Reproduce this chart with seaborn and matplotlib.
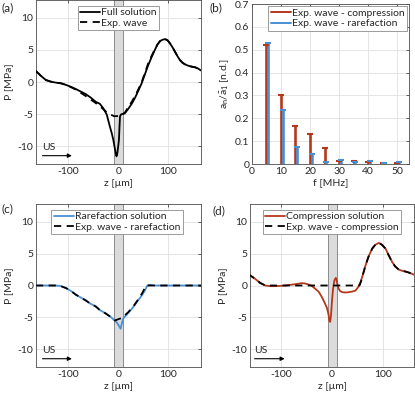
import matplotlib
matplotlib.use("Agg")
import matplotlib.pyplot as plt
from matplotlib.lines import Line2D
import pandas as pd
import seaborn as sns

# ---- data ----
# (a) full solution
z_full = [-165, -155, -145, -135, -125, -115, -105, -95, -85, -75, -65, -55, -45, -37, -30, -23,
          -17, -13, -10, -7, -5, -3.5, -2, -0.5, 1.4, 2.5, 3.5, 5, 8, 13, 20, 27, 33.5, 40, 47,
          53, 60, 67, 74, 79, 84, 89, 94, 99, 104, 109, 114, 119, 124, 129, 134, 140, 147, 154,
          160, 166]
p_full = [1.7, 0.95, 0.3, 0.05, -0.1, -0.2, -0.45, -0.75, -1.1, -1.5, -1.9, -2.45, -3.1, -3.4,
          -4.1, -5.1, -6.9, -8.0, -9.0, -10.3, -11.2, -11.6, -11.2, -10.3, -9.0, -7.0, -5.4, -5.1,
          -5.0, -4.9, -4.2, -3.4, -2.5, -1.4, -0.2, 1.1, 2.6, 3.9, 5.1, 5.9, 6.4, 6.6, 6.7, 6.5,
          6.0, 5.4, 4.7, 4.0, 3.4, 3.0, 2.75, 2.55, 2.4, 2.3, 2.1, 1.8]

# (a) experimental wave
z_exp = [-165, -155, -145, -135, -125, -115, -105, -95, -85, -75, -65, -55, -45, -35, -25, -15,
         -8, 0, 7, 14, 20, 27, 33.5, 40, 47, 53, 60, 67, 74, 79, 84, 89, 94, 99, 104, 109, 114,
         119, 124, 129, 134, 140, 147, 154, 160, 166]
p_exp = [1.7, 0.95, 0.3, 0.05, -0.1, -0.2, -0.45, -0.8, -1.2, -1.7, -2.2, -2.75, -3.3, -3.9,
         -4.6, -5.1, -5.35, -5.3, -5.2, -4.7, -3.9, -3.1, -2.2, -1.2, 0.0, 1.3, 2.9, 4.1, 5.2,
         5.9, 6.4, 6.6, 6.7, 6.5, 6.0, 5.4, 4.7, 4.0, 3.4, 3.0, 2.75, 2.55, 2.4, 2.3, 2.1, 1.8]

# (b) harmonic amplitudes
freq = [5, 10, 15, 20, 25, 30, 35, 40, 45, 50]
amp_comp = [0.52, 0.30, 0.165, 0.132, 0.068, 0.015, 0.012, 0.008, 0.006, 0.004]
amp_rare = [0.53, 0.237, 0.073, 0.045, 0.008, 0.018, 0.009, 0.012, 0.005, 0.008]

# (c) rarefaction
z_rare = [-165, -140, -125, -115, -105, -95, -85, -75, -65, -57, -45, -37, -25, -15, -7, -2, 1,
          4.8, 7, 10, 20, 30, 40, 48, 54, 58, 62, 67, 75, 166]
p_rare = [0, 0, 0, -0.1, -0.4, -0.85, -1.45, -1.9, -2.35, -2.8, -3.3, -3.85, -4.4, -4.95, -5.5,
          -5.9, -6.3, -6.8, -6.0, -5.2, -4.3, -3.4, -2.3, -1.5, -0.7, -0.05, 0.1, 0.05, 0, 0]
z_rare_exp = [-165, -125, -115, -105, -95, -85, -75, -65, -57, -45, -37, -25, -15, -7, 7, 20,
              30, 40, 48, 56, 166]
p_rare_exp = [0, 0, -0.1, -0.4, -0.85, -1.45, -1.9, -2.35, -2.8, -3.3, -3.85, -4.4, -4.95, -5.5,
              -5.1, -4.2, -3.3, -2.2, -1.2, 0, 0]

# (d) compression
z_comp = [-165, -161, -151, -141, -131, -121, -111, -100, -92, -82, -72, -65, -59, -52, -46, -40,
          -33, -26, -20, -15, -10, -7, -5, -3.5, -2, 0, 2, 4.6, 7.5, 9.5, 11, 13, 16.3, 20, 26,
          33, 40, 46, 51, 56, 61, 66, 72, 79, 85, 92, 98, 105, 111, 118, 124, 131, 138, 144,
          152, 158, 165]
p_comp = [1.75, 1.6, 1.05, 0.4, 0.0, -0.1, -0.1, -0.05, 0.0, 0.1, 0.2, 0.3, 0.37, 0.3, 0.15,
          -0.05, -0.5, -1.0, -1.8, -2.6, -3.5, -4.5, -5.6, -5.7, -4.7, -2.4, -0.6, 0.8, 1.2, 0.7,
          0.0, -0.5, -0.9, -1.05, -1.1, -1.05, -0.95, -0.8, -0.3, 0.5, 1.8, 3.2, 4.6, 5.8, 6.4,
          6.7, 6.4, 5.8, 4.8, 3.7, 3.0, 2.5, 2.3, 2.2, 2.0, 1.8, 1.55]
z_comp_exp = [-165, -161, -151, -141, -131, 54, 58, 61, 66, 72, 79, 85, 92, 98, 105, 111, 118,
              124, 131, 138, 144, 152, 158, 165]
p_comp_exp = [1.75, 1.6, 1.05, 0.4, 0.0, 0.0, 0.9, 1.8, 3.2, 4.6, 5.8, 6.4, 6.7, 6.4, 5.8, 4.8,
              3.7, 3.0, 2.5, 2.3, 2.2, 2.0, 1.8, 1.55]

band = (-8, 10)
RED = "#B5381C"
BLUE = "#4A8FD4"

sns.set_theme(style="whitegrid")
plt.rcParams.update({
    "font.family": ["Lato", "DejaVu Sans"],
    "font.size": 7.5,
    "axes.unicode_minus": False,
    "mathtext.fontset": "custom",
    "mathtext.rm": "Lato",
    "mathtext.it": "Lato",
    "mathtext.default": "regular",
    "axes.edgecolor": "0.3",
    "axes.linewidth": 0.6,
    "grid.color": "0.88",
    "grid.linewidth": 0.6,
    "xtick.labelsize": 7.5,
    "ytick.labelsize": 7.5,
    "axes.labelsize": 7.5,
})

W, H = 415, 395
fig = plt.figure(figsize=(W / 100, H / 100), dpi=100)


def box(l, t, r, b):
    return [l / W, 1 - b / H, (r - l) / W, (b - t) / H]


ax_a = fig.add_axes(box(36, 0, 201, 164))
ax_b = fig.add_axes(box(252, 4, 409, 164))
ax_c = fig.add_axes(box(36, 204, 201, 367))
ax_d = fig.add_axes(box(250, 204, 414, 367))

dash = (0, (4, 3))


def style(ax):
    ax.tick_params(direction="in", length=2, width=0.5, top=True, right=True,
                   pad=2, colors="0.15")
    for s in ax.spines.values():
        s.set_visible(True)
        s.set_color("0.3")
        s.set_linewidth(0.6)


def pressure_panel(ax, xlim):
    ax.axvspan(*band, facecolor="0.86", edgecolor="0.55", linewidth=0.7, zorder=1)
    ax.set_xlim(*xlim)
    ax.set_ylim(-12.8, 12.8)
    ax.set_xticks([-100, 0, 100])
    ax.set_yticks([-10, -5, 0, 5, 10])
    ax.set_xlabel("z [µm]", labelpad=2)
    ax.set_ylabel("P [MPa]", labelpad=3)
    ax.annotate("", xy=(-93, -11.5), xytext=(-152, -11.5),
                arrowprops=dict(arrowstyle="-|>", color="black", lw=0.8,
                                mutation_scale=6, shrinkA=0, shrinkB=0))
    ax.text(-152, -10.9, "US", fontsize=7.5, va="bottom", ha="left")
    style(ax)


def leg(ax, pad=0.3, **kw):
    lg = ax.legend(fontsize=7.5, fancybox=False, framealpha=1, edgecolor="0.55",
                   handlelength=1.9, handletextpad=0.1, borderpad=0.25,
                   labelspacing=0.1, borderaxespad=pad, **kw)
    lg.get_frame().set_linewidth(0.6)
    lg.set_zorder(5)
    return lg


# (a)
pressure_panel(ax_a, (-165, 166))
sns.lineplot(x=z_full, y=p_full, ax=ax_a, color="black", lw=1.3, estimator=None, sort=False,
             label="Full solution", zorder=3)
sns.lineplot(x=z_exp, y=p_exp, ax=ax_a, color="black", lw=1.3, estimator=None, sort=False,
             linestyle=dash, label="Exp. wave", zorder=3)
leg(ax_a, loc="upper center", bbox_to_anchor=(0.5, 0.985))

# (b)
df_b = pd.DataFrame({"f": freq, "comp": amp_comp, "rare": amp_rare})
f_red = df_b["f"] - 0.05
f_blue = df_b["f"] + 0.55
ax_b.vlines(f_red, 0, df_b["comp"], color=RED, lw=1.9, zorder=3)
ax_b.vlines(f_blue, 0, df_b["rare"], color=BLUE, lw=1.9, zorder=3)
sns.scatterplot(x=f_red, y=df_b["comp"], ax=ax_b, marker="_", s=22, color=RED,
                linewidth=1.5, zorder=4)
sns.scatterplot(x=f_blue, y=df_b["rare"], ax=ax_b, marker="_", s=22, color=BLUE,
                linewidth=1.5, zorder=4)
ax_b.set_xlim(0, 54)
ax_b.set_ylim(0, 0.7)
ax_b.set_xticks(range(0, 51, 10))
ax_b.set_yticks([0, 0.1, 0.2, 0.3, 0.4, 0.5, 0.6, 0.7])
ax_b.set_yticklabels(["0", "0.1", "0.2", "0.3", "0.4", "0.5", "0.6", "0.7"])
ax_b.set_xlabel("f [MHz]", labelpad=2)
ax_b.set_ylabel(r"$a_n/\bar{a}_1$ [n.d.]", labelpad=3)
style(ax_b)
handles_b = [Line2D([], [], color=RED, lw=1.4), Line2D([], [], color=BLUE, lw=1.4)]
leg(ax_b, pad=0.2, handles=handles_b,
    labels=["Exp. wave - compression", "Exp. wave - rarefaction"],
    loc="upper right")

# (c)
pressure_panel(ax_c, (-165, 166))
sns.lineplot(x=z_rare, y=p_rare, ax=ax_c, color=BLUE, lw=1.3, estimator=None, sort=False,
             label="Rarefaction solution", zorder=3)
sns.lineplot(x=z_rare_exp, y=p_rare_exp, ax=ax_c, color="black", lw=1.3, estimator=None,
             sort=False, linestyle=dash, label="Exp. wave - rarefaction", zorder=3)
leg(ax_c, loc="upper center", bbox_to_anchor=(0.49, 0.985))

# (d)
pressure_panel(ax_d, (-161, 161))
sns.lineplot(x=z_comp, y=p_comp, ax=ax_d, color=RED, lw=1.3, estimator=None, sort=False,
             label="Compression solution", zorder=3)
sns.lineplot(x=z_comp_exp, y=p_comp_exp, ax=ax_d, color="black", lw=1.3, estimator=None,
             sort=False, linestyle=dash, label="Exp. wave - compression", zorder=3)
leg(ax_d, loc="upper center", bbox_to_anchor=(0.5, 0.985))

# panel letters
fig.text(1 / W, 1 - 2 / H, "(a)", fontsize=8.5, va="top", ha="left")
fig.text(210 / W, 1 - 2 / H, "(b)", fontsize=8.5, va="top", ha="left")
fig.text(1 / W, 1 - 203 / H, "(c)", fontsize=8.5, va="top", ha="left")
fig.text(212 / W, 1 - 205 / H, "(d)", fontsize=8.5, va="top", ha="left")

fig.savefig("out.png", dpi=100)
